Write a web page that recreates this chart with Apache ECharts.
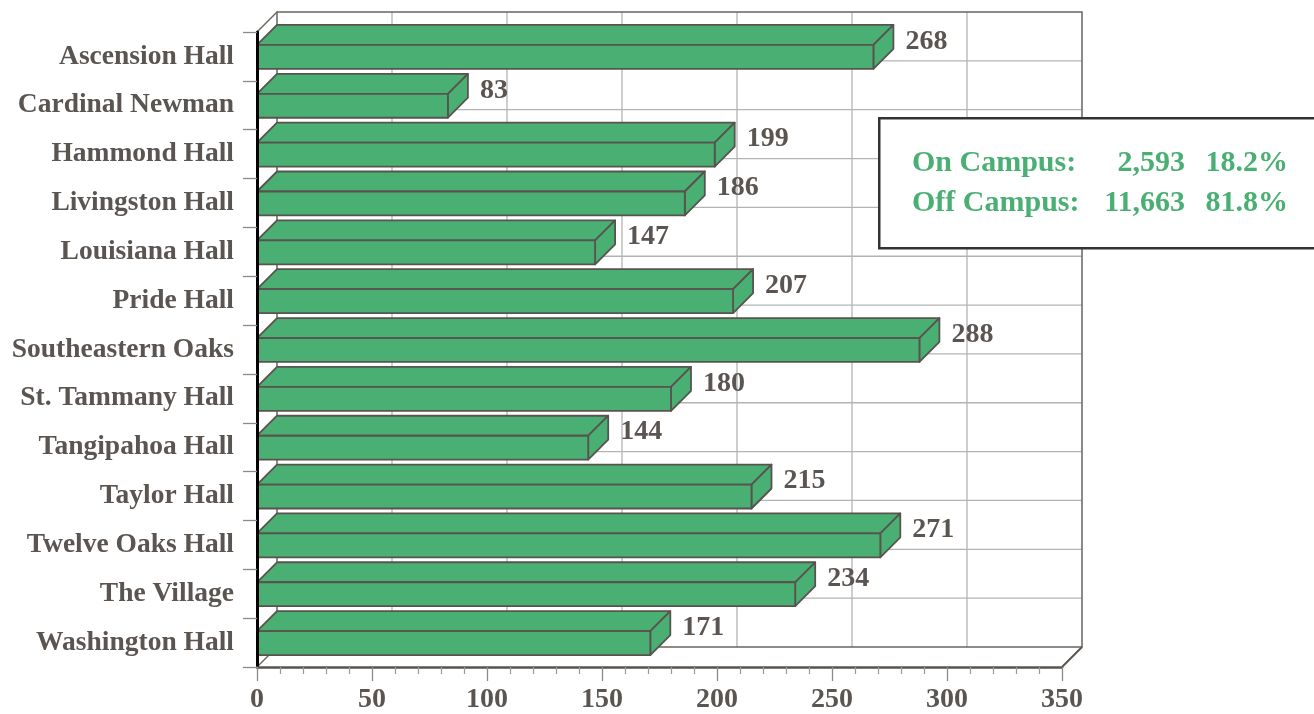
<!DOCTYPE html>
<html>
<head>
<meta charset="utf-8">
<script src="https://cdn.jsdelivr.net/npm/echarts@6/dist/echarts.min.js"></script>
<style>
html,body{margin:0;padding:0;background:#fff;}
#chart{width:1314px;height:714px;}
</style>
</head>
<body>
<div id="chart"></div>
<script>
// ---- data ----
const categories = ['Ascension Hall','Cardinal Newman','Hammond Hall','Livingston Hall','Louisiana Hall','Pride Hall','Southeastern Oaks','St. Tammany Hall','Tangipahoa Hall','Taylor Hall','Twelve Oaks Hall','The Village','Washington Hall'];
const residents = [268, 83, 199, 186, 147, 207, 288, 180, 144, 215, 271, 234, 171];
const xMin = 0, xMax = 350, xStep = 50;
const summaryLabels = ['On Campus:', 'Off Campus:'];
const summaryCounts = ['2,593', '11,663'];
const summaryPercents = ['18.2%', '81.8%'];

// ---- style ----
const FONT = '"Liberation Serif", "DejaVu Serif", serif';
const TEXT = '#5a5550';
const GREEN = '#4aaf72';
const EDGE = '#58534e';
const DEPTH = 20;

const chart = echarts.init(document.getElementById('chart'));

function renderWalls(params, api) {
  const cs = params.coordSys;
  const L = cs.x, T = cs.y, R = cs.x + cs.width, B = cs.y + cs.height;
  const d = DEPTH;
  const children = [];
  const grid = {stroke: '#b3b3b3', lineWidth: 1.3};
  for (let v = xMin + xStep; v < xMax; v += xStep) {
    const x = api.coord([v, 0])[0];
    children.push({type: 'line', shape: {x1: x + d, y1: T - d, x2: x + d, y2: B - d}, style: grid});
  }
  const band = api.size([0, 1])[1];
  for (let i = 1; i < categories.length; i++) {
    const y = api.coord([0, i])[1] - band / 2;
    children.push({type: 'line', shape: {x1: L + d, y1: y - d, x2: R + d, y2: y - d}, style: grid});
  }
  const wall = {stroke: '#6a6560', lineWidth: 1.5};
  children.push({type: 'polyline', shape: {points: [[L + d, B - d], [L + d, T - d], [R + d, T - d], [R + d, B - d], [L + d, B - d]]}, style: Object.assign({fill: null}, wall)});
  children.push({type: 'line', shape: {x1: L, y1: T, x2: L + d, y2: T - d}, style: wall});
  children.push({type: 'line', shape: {x1: L, y1: B, x2: L + d, y2: B - d}, style: wall});
  children.push({type: 'line', shape: {x1: R, y1: B, x2: R + d, y2: B - d}, style: {stroke: EDGE, lineWidth: 2}});
  return {type: 'group', children: children};
}

function renderBar(params, api) {
  const cat = api.value(0);
  const val = api.value(1);
  const p0 = api.coord([0, cat]);
  const p1 = api.coord([val, cat]);
  const band = api.size([0, 1])[1];
  const h = band * 0.49;
  const d = DEPTH;
  const x0 = p0[0], x1 = p1[0];
  const yt = p0[1] - h / 2 + 0.5, yb = p0[1] + h / 2 + 0.5;
  const st = {fill: GREEN, stroke: EDGE, lineWidth: 1.8, lineJoin: 'round'};
  return {
    type: 'group',
    children: [
      {type: 'polygon', shape: {points: [[x0, yt], [x1, yt], [x1 + d, yt - d], [x0 + d, yt - d]]}, style: st},
      {type: 'polygon', shape: {points: [[x1, yt], [x1 + d, yt - d], [x1 + d, yb - d], [x1, yb]]}, style: st},
      {type: 'rect', shape: {x: x0, y: yt, width: x1 - x0, height: yb - yt}, style: st},
      {type: 'text', style: {text: String(val), x: x1 + d + 12, y: p0[1] - 15, align: 'left', verticalAlign: 'middle',
        fill: TEXT, font: 'bold 28px ' + FONT}}
    ]
  };
}

const barData = residents.map((v, i) => [i, v]);

const graphics = [
  {type: 'rect', left: 878, top: 117, shape: {width: 470, height: 130}, style: {fill: '#fff', stroke: '#333', lineWidth: 2.5}, z: 100}
];
summaryLabels.forEach((t, i) => {
  const y = 163 + i * 40;
  graphics.push({type: 'text', x: 912, y: y, z: 101, style: {text: t, fill: GREEN, font: 'bold 30px ' + FONT, align: 'left', verticalAlign: 'middle'}});
  graphics.push({type: 'text', x: 1185, y: y, z: 101, style: {text: summaryCounts[i], fill: GREEN, font: 'bold 30px ' + FONT, align: 'right', verticalAlign: 'middle'}});
  graphics.push({type: 'text', x: 1288, y: y, z: 101, style: {text: summaryPercents[i], fill: GREEN, font: 'bold 30px ' + FONT, align: 'right', verticalAlign: 'middle'}});
});

chart.setOption({
  animation: false,
  backgroundColor: '#fff',
  grid: {left: 257, right: 252, top: 32, bottom: 46, containLabel: false},
  xAxis: {
    type: 'value', min: xMin, max: xMax, interval: xStep, z: 10,
    axisLine: {show: true, lineStyle: {color: EDGE, width: 2.5}},
    axisTick: {show: true, length: 14, lineStyle: {color: '#8a8a8a', width: 1.3}},
    minorTick: {show: true, splitNumber: 5, length: 7, lineStyle: {color: '#9a9a9a', width: 1.2}},
    splitLine: {show: false},
    axisLabel: {margin: 19, color: TEXT, fontFamily: FONT, fontWeight: 'bold', fontSize: 28}
  },
  yAxis: {
    type: 'category', inverse: true, data: categories, z: 10,
    axisLine: {show: true, lineStyle: {color: '#000', width: 3}},
    axisTick: {show: true, length: 14, lineStyle: {color: '#8a8a8a', width: 1.3}},
    splitLine: {show: false},
    axisLabel: {margin: 23, color: TEXT, fontFamily: FONT, fontWeight: 'bold', fontSize: 27.5}
  },
  series: [
    {type: 'custom', name: 'walls', renderItem: renderWalls, data: [[0, 0]], encode: {x: 1, y: 0}, clip: false, z: 1, silent: true},
    {type: 'custom', name: 'residents', renderItem: renderBar, data: barData, encode: {x: 1, y: 0}, clip: false, z: 5}
  ],
  graphic: graphics
});
</script>
</body>
</html>
